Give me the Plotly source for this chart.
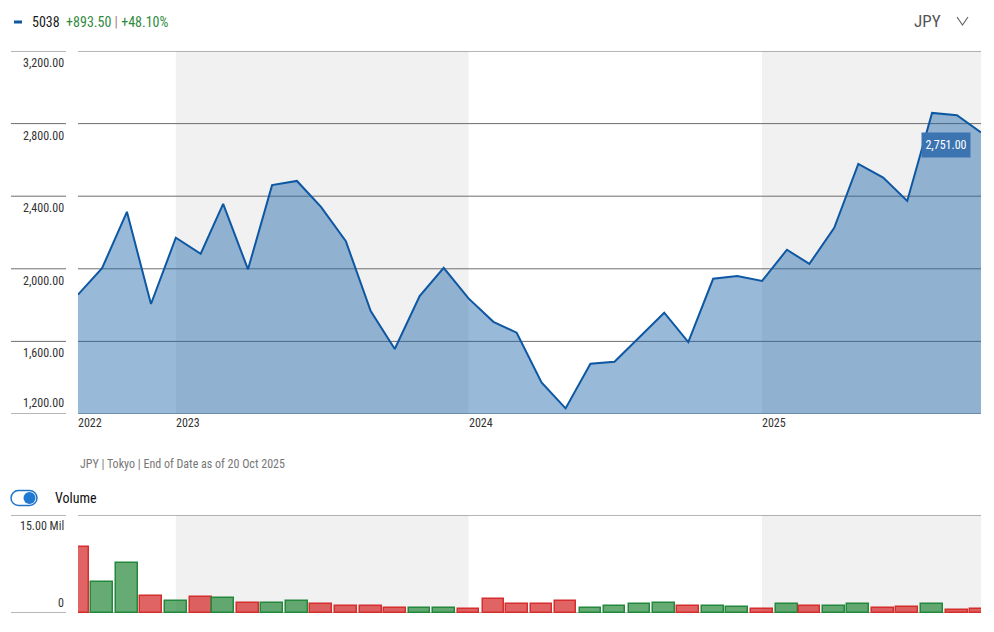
import plotly.graph_objects as go

# ---------------- data ----------------
months = [
    "2022-09-01", "2022-10-01", "2022-11-01", "2022-12-01",
    "2023-01-01", "2023-02-01", "2023-03-01", "2023-04-01", "2023-05-01", "2023-06-01",
    "2023-07-01", "2023-08-01", "2023-09-01", "2023-10-01", "2023-11-01", "2023-12-01",
    "2024-01-01", "2024-02-01", "2024-03-01", "2024-04-01", "2024-05-01", "2024-06-01",
    "2024-07-01", "2024-08-01", "2024-09-01", "2024-10-01", "2024-11-01", "2024-12-01",
    "2025-01-01", "2025-02-01", "2025-03-01", "2025-04-01", "2025-05-01", "2025-06-01",
    "2025-07-01", "2025-08-01", "2025-09-01", "2025-10-01",
]
close_price = [
    1857.5, 2003, 2314, 1806,
    2171, 2083, 2358, 1997, 2461, 2484,
    2341, 2152, 1767, 1558, 1850, 2005,
    1837, 1708, 1648, 1374, 1231, 1477,
    1488, 1624, 1758, 1596, 1945, 1960,
    1933, 2105, 2027, 2226, 2578, 2503,
    2374, 2859, 2846, 2751.0,
]
volume_mil = [
    10.15, 4.8, 7.6, 2.65,
    1.8, 2.5, 2.35, 1.58, 1.55, 1.8,
    1.43, 1.12, 1.12, 0.82, 0.82, 0.82,
    0.66, 2.2, 1.33, 1.31, 1.79, 0.82,
    1.12, 1.43, 1.58, 1.12, 1.12, 0.97,
    0.66, 1.31, 1.12, 1.12, 1.43, 0.82,
    0.97, 1.31, 0.5, 0.66,
]
price_ticks = [1200, 1600, 2000, 2400, 2800, 3200]
price_tick_labels = ["1,200.00", "1,600.00", "2,000.00", "2,400.00", "2,800.00", "3,200.00"]
volume_ticks = [0, 15]
volume_tick_labels = ["0", "15.00 Mil"]
year_tick_dates = ["2022-09-01", "2023-01-01", "2024-01-01", "2025-01-01"]
year_tick_labels = ["2022", "2023", "2024", "2025"]
shaded_years = [("2023-01-01", "2024-01-01"), ("2025-01-01", "2025-10-01")]
ticker = "5038"
change_abs = "+893.50"
change_pct = "+48.10%"
currency = "JPY"
footnote = "JPY | Tokyo | End of Date as of 20 Oct 2025"
last_label = "2,751.00"

# ---------------- layout geometry ----------------
# the page body adds an 8px margin, so the figure is drawn 8px smaller
OFF = 8
W, H = 994 - OFF, 632 - OFF
ML, MR, MT, MB = 78 - OFF, 13, 51 - OFF, 19
PW, PH = W - ML - MR, H - MT - MB


def px(p):
    """screen x pixel -> paper x"""
    return (p - OFF - ML) / PW


def py(p):
    """screen y pixel -> paper y"""
    return (H - MB - (p - OFF)) / PH


FONT = "Liberation Sans Narrow, Roboto Condensed, Arial Narrow, Liberation Sans, sans-serif"
xrange = [months[0], months[-1]]

# bar colours by direction
RED_F, RED_L = "rgba(214,40,40,0.72)", "rgb(214,45,45)"
GRN_F, GRN_L = "rgba(35,135,55,0.70)", "rgb(35,135,60)"
fills, lines = [], []
for i, v in enumerate(close_price):
    up = i > 0 and v >= close_price[i - 1]
    fills.append(GRN_F if up else RED_F)
    lines.append(GRN_L if up else RED_L)

fig = go.Figure()
fig.add_trace(go.Scatter(
    x=months, y=close_price, mode="lines", fill="tozeroy",
    fillcolor="rgba(29,100,169,0.45)",
    line=dict(color="#0d57a3", width=2),
    xaxis="x", yaxis="y", hoverinfo="skip", showlegend=False,
))
fig.add_trace(go.Bar(
    x=months, y=volume_mil, width=27 * 86400000,
    marker=dict(color=fills, line=dict(color=lines, width=1.5)),
    xaxis="x2", yaxis="y2", hoverinfo="skip", showlegend=False,
))

shapes = []
# shaded years
for a, b in shaded_years:
    shapes.append(dict(type="rect", xref="x", yref="y domain", x0=a, x1=b, y0=0, y1=1,
                       fillcolor="#f1f1f1", line=dict(width=0), layer="below"))
    shapes.append(dict(type="rect", xref="x2", yref="y2 domain", x0=a, x1=b, y0=0, y1=1,
                       fillcolor="#f1f1f1", line=dict(width=0), layer="below"))
# gridlines
GRID = "#6e6e6e"
for v in price_ticks:
    shapes.append(dict(type="line", xref="x", yref="y", x0=xrange[0], x1=xrange[1], y0=v, y1=v,
                       line=dict(color=GRID, width=1), layer="below"))
    shapes.append(dict(type="line", xref="paper", yref="y", x0=px(11), x1=px(66), y0=v, y1=v,
                       line=dict(color=GRID, width=1)))
for v in volume_ticks:
    shapes.append(dict(type="line", xref="x2", yref="y2", x0=xrange[0], x1=xrange[1], y0=v, y1=v,
                       line=dict(color=GRID, width=1), layer="below"))
    shapes.append(dict(type="line", xref="paper", yref="y2", x0=px(11), x1=px(66), y0=v, y1=v,
                       line=dict(color=GRID, width=1)))
# legend dash
shapes.append(dict(type="line", xref="paper", yref="paper", x0=px(14), x1=px(22), y0=py(22), y1=py(22),
                   line=dict(color="#0d57a3", width=3)))
# currency chevron
shapes.append(dict(type="path", xref="paper", yref="paper",
                   path=f"M {px(957)} {py(17)} L {px(962.5)} {py(25)} L {px(968)} {py(17)}",
                   line=dict(color="#666", width=1.2)))
# toggle switch (pill)
x0, x1, yt, yb = 11, 37, 490.5, 505.5
r = (yb - yt) / 2
k = 0.5523 * r
path = (
    f"M {px(x0 + r)} {py(yt)} L {px(x1 - r)} {py(yt)} "
    f"C {px(x1 - r + k)} {py(yt)} {px(x1)} {py(yt + r - k)} {px(x1)} {py(yt + r)} "
    f"C {px(x1)} {py(yt + r + k)} {px(x1 - r + k)} {py(yb)} {px(x1 - r)} {py(yb)} "
    f"L {px(x0 + r)} {py(yb)} "
    f"C {px(x0 + r - k)} {py(yb)} {px(x0)} {py(yt + r + k)} {px(x0)} {py(yt + r)} "
    f"C {px(x0)} {py(yt + r - k)} {px(x0 + r - k)} {py(yt)} {px(x0 + r)} {py(yt)} Z"
)
shapes.append(dict(type="path", xref="paper", yref="paper", path=path,
                   fillcolor="white", line=dict(color="#1f74c9", width=1.5)))
shapes.append(dict(type="circle", xref="paper", yref="paper",
                   x0=px(23.5), x1=px(35.5), y0=py(504), y1=py(492),
                   fillcolor="#1f78d1", line=dict(width=0)))

ann = []
# y tick labels
for v, t in zip(price_ticks, price_tick_labels):
    ann.append(dict(x=px(66), xref="paper", y=v, yref="y", text=t, showarrow=False,
                    xanchor="right", yanchor="middle", yshift=(11 if v == price_ticks[0] else -12),
                    font=dict(family=FONT, size=12, color="#333")))
for v, t in zip(volume_ticks, volume_tick_labels):
    ann.append(dict(x=px(66), xref="paper", y=v, yref="y2", text=t, showarrow=False,
                    xanchor="right", yanchor="middle", yshift=(10 if v == volume_ticks[0] else -11),
                    font=dict(family=FONT, size=12, color="#333")))
# x tick labels
for d, t in zip(year_tick_dates, year_tick_labels):
    ann.append(dict(x=d, xref="x", y=py(423), yref="paper", text=t, showarrow=False,
                    xanchor="left", yanchor="middle", xshift=-2,
                    font=dict(family=FONT, size=12, color="#333")))
# header
ann.append(dict(x=px(30), xref="paper", y=py(22), yref="paper", showarrow=False,
                xanchor="left", yanchor="middle",
                text=(f"<span style='color:#1a1a1a'>{ticker}</span>  "
                      f"<span style='color:#2e8b3e'>{change_abs}</span> "
                      f"<span style='color:#b08080'>|</span> "
                      f"<span style='color:#2e8b3e'>{change_pct}</span>"),
                font=dict(family=FONT, size=14)))
ann.append(dict(x=px(943), xref="paper", y=py(21), yref="paper", text=currency, showarrow=False,
                xanchor="right", yanchor="middle", font=dict(family=FONT, size=17, color="#555")))
ann.append(dict(x=px(78), xref="paper", y=py(464), yref="paper", text=footnote, showarrow=False,
                xanchor="left", yanchor="middle", font=dict(family=FONT, size=12, color="#777")))
ann.append(dict(x=px(53), xref="paper", y=py(498), yref="paper", text="Volume", showarrow=False,
                xanchor="left", yanchor="middle", font=dict(family=FONT, size=14, color="#111")))
# last value tag
ann.append(dict(x=months[-1], xref="x", y=close_price[-1], yref="y", text=last_label, showarrow=False,
                xanchor="right", yanchor="middle", xshift=-10, yshift=-13,
                width=48, height=24, align="center", valign="middle",
                bgcolor="#3b74b1", borderpad=0, font=dict(family=FONT, size=12, color="white")))

fig.update_layout(
    width=W, height=H,
    margin=dict(l=ML, r=MR, t=MT, b=MB),
    paper_bgcolor="white", plot_bgcolor="rgba(0,0,0,0)",
    showlegend=False, bargap=0,
    xaxis=dict(type="date", range=xrange, domain=[0, 1], anchor="y",
               showgrid=False, showticklabels=False, zeroline=False, showline=False, ticks=""),
    xaxis2=dict(type="date", range=xrange, domain=[0, 1], anchor="y2", matches="x",
                showgrid=False, showticklabels=False, zeroline=False, showline=False, ticks=""),
    yaxis=dict(range=[price_ticks[0], price_ticks[-1]], domain=[py(414), 1],
               showgrid=False, showticklabels=False, zeroline=False, ticks=""),
    yaxis2=dict(range=[volume_ticks[0], volume_ticks[-1]], domain=[0, py(515)],
                showgrid=False, showticklabels=False, zeroline=False, ticks=""),
    shapes=shapes, annotations=ann,
)
fig.write_html("out.html")
